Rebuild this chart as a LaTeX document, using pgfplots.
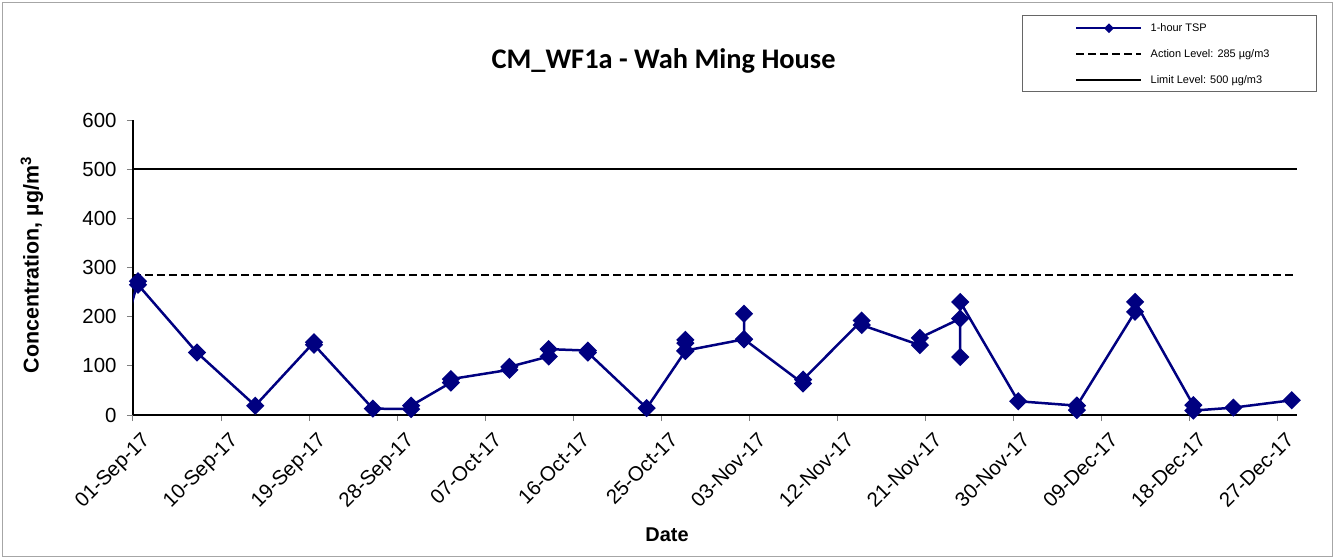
\documentclass[border=0pt]{standalone}
\usepackage{fontspec}
\setmainfont{Liberation Sans}
\newfontfamily\titlefont{Carlito}
\usepackage{pgfplots}
\pgfplotsset{compat=1.18}
\definecolor{tsp}{RGB}{0,0,128}

\begin{document}
\begin{tikzpicture}
\useasboundingbox (-133bp,-144bp) rectangle (1203bp,415bp);
% chart frame and legend box
\draw[gray!70, line width=1bp] (-130bp,-141bp) rectangle (1199bp,412bp);
\draw[black!60, line width=0.8bp] (889bp,324bp) rectangle (1183bp,400bp);
\begin{axis}[
  at={(0,0)}, anchor=south west,
  scale only axis, width=1164bp, height=295bp,
  xmin=0, xmax=119, ymin=0, ymax=600,
  axis x line*=bottom, axis y line*=left,
  axis line style={black, line width=1.2bp},
  tick align=outside, major tick length=6bp,
  tick style={gray, line width=1bp},
  xtick={0,9,...,117},
  xticklabels={01-Sep-17,10-Sep-17,19-Sep-17,28-Sep-17,07-Oct-17,16-Oct-17,25-Oct-17,03-Nov-17,12-Nov-17,21-Nov-17,30-Nov-17,09-Dec-17,18-Dec-17,27-Dec-17},
  ytick={0,100,...,600},
  /pgf/number format/assume math mode=true,
  tick label style={font=\fontsize{20.5}{23}\selectfont},
  x tick label style={xshift=7.5bp, yshift=-5bp, rotate=45, anchor=north east},
  y tick label style={xshift=-7bp},
  title={CM\_WF1a - Wah Ming House},
  title style={at={(axis description cs:0.4558,1.1797)}, anchor=center,
    font=\titlefont\bfseries\fontsize{28.5}{32}\selectfont},
  xlabel={Date},
  xlabel style={at={(axis description cs:0.4588,-0.4068)}, anchor=center,
    font=\bfseries\fontsize{20}{24}\selectfont},
  ylabel={Concentration, µg/m\textsuperscript{3}},
  ylabel style={at={(axis description cs:-0.0868,0.508)}, anchor=center,
    font=\bfseries\fontsize{21.5}{25}\selectfont},
  legend image code/.code={\draw[mark repeat=2,mark phase=2,#1,mark size=2.2bp]
    plot coordinates {(0bp,0bp) (32.5bp,0bp) (65bp,0bp)};},
  legend style={at={(axis description cs:0.8093,1.3288)}, anchor=north west,
    draw=none, fill=none, inner sep=0pt, row sep=16bp, column sep=8bp,
    font=\fontsize{11}{13}\selectfont,
    nodes={inner sep=0pt, text height=8bp, text depth=2bp}},
  legend cell align=left,
]
\addplot[tsp, line width=2.5bp, forget plot] coordinates {(-0.5,200) (0.51,272)};
\addplot[tsp, line width=2.5bp, mark=square*,
  mark options={rotate=45, fill=tsp, draw=tsp, solid}, mark size=5.2bp]
  coordinates {
  (0.51,272) (0.51,265) (6.54,127) (12.5,19) (18.5,148) (18.5,143)
  (24.52,13) (28.44,12) (28.44,19) (32.5,66) (32.5,73)
  (38.48,92) (38.48,98) (42.5,119) (42.5,134) (46.5,131) (46.5,127)
  (52.52,14) (56.47,130) (56.47,153) (56.47,146) (56.47,131)
  (62.47,154) (62.47,206) (62.47,154) (68.5,64) (68.5,72)
  (74.5,192) (74.5,183) (80.45,142) (80.45,157)
  (84.57,196) (84.57,118) (84.57,230) (90.5,28)
  (96.5,19) (96.5,10) (96.5,19) (102.45,210) (102.45,230)
  (108.4,20) (108.4,9) (112.5,15) (118.46,30)
  };
\addlegendentry{1-hour TSP}
\addplot[black, line width=2.5bp, dash pattern=on 8bp off 4bp] coordinates {(0,285) (119,285)};
\addlegendentry{Action Level: 285 µg/m3}
\addplot[black, line width=2.5bp] coordinates {(0,500) (119,500)};
\addlegendentry{Limit Level: 500 µg/m3}
\end{axis}
\end{tikzpicture}
\end{document}
